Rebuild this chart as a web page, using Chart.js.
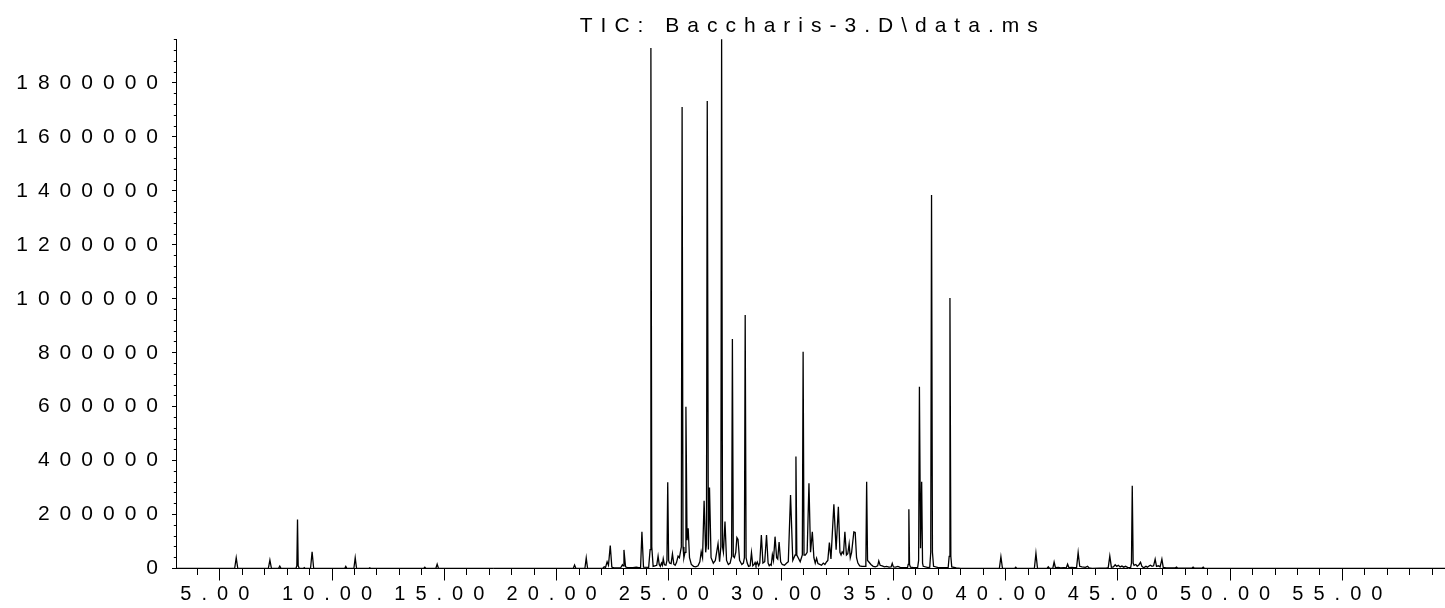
<!DOCTYPE html>
<html>
<head>
<meta charset="utf-8">
<title>TIC: Baccharis-3.D\data.ms</title>
<script src="https://cdn.jsdelivr.net/npm/chart.js@4"></script>
<style>
  html, body { margin: 0; padding: 0; background: #fff; }
  canvas { display: block; }
</style>
</head>
<body>
<canvas id="tic" width="1445" height="608"></canvas>
<script>
  const chartTitle = 'TIC: Baccharis-3.D\\data.ms';
  const fontFamily = "'Liberation Sans', Arial, sans-serif";

  // axis ranges and labelled ticks
  const timeRange = [3.07, 59.57];
  const abundanceRange = [0, 1962000];
  const timeLabels = [5, 10, 15, 20, 25, 30, 35, 40, 45, 50, 55];
  const abundanceLabels = [0, 200000, 400000, 600000, 800000, 1000000, 1200000, 1400000, 1600000, 1800000];

  // trace: [retention time (min), abundance]
  const earlyTrace = [
    [3.07, 0], [5.66, 0], [5.73, 40000], [5.80, 0],
    [7.16, 0], [7.23, 31000], [7.30, 0],
    [7.61, 0], [7.67, 9000], [7.73, 0],
    [8.39, 0], [8.43, 10000], [8.46, 182000], [8.49, 10000], [8.54, 0],
    [8.72, 0], [8.76, 3000], [8.80, 0],
    [9.04, 0], [9.11, 62000], [9.18, 0],
    [10.56, 0], [10.61, 8000], [10.66, 0],
    [10.97, 0], [11.03, 40000], [11.09, 0],
    [11.63, 0], [11.68, 3000], [11.73, 0],
    [14.08, 0], [14.13, 5000], [14.18, 0],
    [14.62, 0], [14.68, 16000], [14.74, 0],
    [20.74, 0]
  ];

  const middleTrace = [
    [20.80, 13000], [20.86, 0],
    [21.26, 0], [21.32, 39000], [21.38, 0],
    [22.05, 0], [22.12, 6000], [22.18, 4000], [22.25, 25000], [22.31, 12000], [22.39, 85000], [22.46, 5000], [22.55, 2000],
    [22.85, 2000], [22.93, 14000], [22.96, 10000], [23.00, 69000], [23.07, 6000], [23.15, 3000], [23.40, 3000], [23.55, 5000], [23.66, 3000],
    [23.74, 3000], [23.80, 136000], [23.87, 5000], [24.10, 4000],
    [24.165, 70000], [24.20, 1930000], [24.24, 80000], [24.30, 8000], [24.38, 10000], [24.46, 12000], [24.52, 46000], [24.57, 15000],
    [24.62, 8000], [24.67, 20000], [24.71, 12000], [24.75, 36000], [24.80, 14000], [24.87, 12000],
    [24.915, 30000], [24.95, 320000], [24.99, 30000], [25.03, 20000], [25.10, 18000], [25.16, 54000], [25.22, 16000], [25.28, 12000],
    [25.34, 22000], [25.41, 46000], [25.47, 40000],
    [25.555, 80000], [25.59, 1711000], [25.63, 80000], [25.67, 40000], [25.72, 60000], [25.76, 600000], [25.81, 105000], [25.86, 149000],
    [25.92, 40000], [26.00, 15000], [26.10, 8000], [26.20, 6000], [26.30, 10000], [26.38, 25000],
    [26.44, 62000], [26.50, 40000], [26.57, 251000], [26.64, 60000], [26.675, 90000], [26.71, 1733000], [26.76, 70000], [26.81, 300000],
    [26.88, 40000], [26.98, 20000], [27.07, 30000], [27.19, 92000], [27.26, 25000],
    [27.315, 80000], [27.35, 1963000], [27.39, 80000], [27.43, 60000], [27.50, 174000], [27.57, 30000], [27.65, 15000], [27.73, 20000],
    [27.795, 45000], [27.83, 851000], [27.87, 45000], [27.92, 40000], [27.98, 60000], [28.03, 115000], [28.08, 108000], [28.15, 30000],
    [28.25, 15000], [28.32, 20000],
    [28.365, 40000], [28.40, 940000], [28.44, 40000], [28.49, 20000], [28.55, 8000], [28.62, 10000], [28.68, 59000], [28.74, 10000],
    [28.80, 15000], [28.84, 22000], [28.88, 12000], [28.94, 24000], [29.00, 10000], [29.05, 20000],
    [29.12, 124000], [29.19, 20000], [29.27, 25000], [29.35, 124000], [29.42, 20000], [29.47, 10000], [29.52, 15000], [29.56, 12000],
    [29.61, 51000], [29.66, 30000], [29.73, 118000], [29.80, 40000], [29.85, 35000], [29.91, 98000], [29.98, 25000], [30.05, 15000],
    [30.15, 12000], [30.25, 20000], [30.32, 25000],
    [30.42, 272000], [30.52, 30000], [30.625, 50000], [30.66, 415000], [30.70, 50000], [30.76, 40000], [30.85, 25000],
    [30.945, 50000], [30.98, 804000], [31.02, 50000], [31.08, 50000], [31.16, 60000], [31.24, 316000], [31.31, 60000], [31.39, 136000],
    [31.46, 40000], [31.52, 20000], [31.58, 38000], [31.64, 18000], [31.72, 15000], [31.80, 12000], [31.88, 20000], [31.95, 15000],
    [32.03, 25000], [32.08, 30000],
    [32.15, 96000], [32.22, 35000], [32.35, 238000], [32.45, 70000], [32.55, 229000], [32.62, 60000], [32.67, 50000], [32.72, 62000],
    [32.78, 55000], [32.84, 136000], [32.91, 50000], [32.97, 55000], [33.03, 91000], [33.08, 40000], [33.14, 60000], [33.24, 136000],
    [33.30, 134000], [33.36, 40000], [33.42, 20000], [33.50, 10000], [33.60, 8000], [33.74, 8000],
    [33.775, 20000], [33.81, 322000], [33.85, 30000], [33.90, 25000], [34.00, 15000], [34.10, 8000], [34.20, 6000], [34.30, 10000],
    [34.35, 28000], [34.41, 12000], [34.50, 10000], [34.60, 6000], [34.70, 8000], [34.80, 5000], [34.90, 6000], [34.95, 19000],
    [35.00, 6000], [35.10, 5000], [35.20, 8000], [35.30, 4000], [35.45, 3000], [35.63, 3000],
    [35.66, 15000], [35.69, 220000], [35.72, 15000], [35.76, 5000], [35.90, 3000], [36.08, 3000],
    [36.125, 30000], [36.16, 674000], [36.21, 75000], [36.26, 322000], [36.30, 20000], [36.33, 8000], [36.55, 3000], [36.62, 5000],
    [36.665, 60000], [36.70, 1385000], [36.74, 60000], [36.79, 8000], [37.00, 3000], [37.44, 3000],
    [37.485, 45000], [37.52, 1003000], [37.56, 45000], [37.60, 6000], [37.80, 2000], [38.00, 0]
  ];

  const lateTrace = [
    [39.72, 0], [39.79, 44000], [39.86, 0],
    [40.40, 0], [40.45, 5000], [40.50, 0],
    [41.28, 0], [41.35, 56000], [41.42, 0],
    [41.84, 0], [41.90, 6000], [41.96, 0],
    [42.10, 0], [42.16, 24000], [42.22, 3000], [42.35, 4000], [42.45, 2000], [42.60, 3000], [42.70, 2000],
    [42.76, 16000], [42.82, 3000], [42.95, 4000], [43.05, 3000], [43.16, 3000],
    [43.23, 59000], [43.30, 8000], [43.40, 6000], [43.55, 4000], [43.65, 8000], [43.72, 2000], [43.85, 0],
    [44.50, 2000], [44.57, 3000], [44.64, 46000], [44.71, 5000], [44.80, 6000], [44.88, 14000], [44.95, 8000],
    [45.02, 12000], [45.10, 6000], [45.18, 9000], [45.26, 5000], [45.34, 8000], [45.45, 3000], [45.57, 4000],
    [45.605, 20000], [45.64, 307000], [45.68, 20000], [45.72, 12000], [45.80, 15000], [45.86, 8000], [45.94, 14000],
    [46.01, 23000], [46.07, 8000], [46.15, 3000], [46.25, 8000], [46.32, 5000], [46.40, 10000], [46.45, 12000],
    [46.52, 8000], [46.59, 10000], [46.66, 35000], [46.72, 8000], [46.80, 10000], [46.88, 6000], [46.96, 35000],
    [47.02, 4000], [47.15, 2000], [47.55, 2000], [47.61, 5000], [47.67, 1000],
    [48.29, 1000], [48.35, 5000], [48.41, 1000], [48.74, 1000], [48.80, 5000], [48.86, 0],
    [59.57, 0]
  ];

  // one tick per minute, one per 40000 counts; only the round ones get a label
  function minuteTicks(axis) {
    axis.ticks = [];
    for (let t = Math.ceil(timeRange[0]); t <= timeRange[1]; t++) axis.ticks.push({ value: t });
  }
  function countTicks(axis) {
    axis.ticks = [];
    for (let v = abundanceRange[0]; v <= abundanceRange[1]; v += 40000) axis.ticks.push({ value: v });
  }

  // spaced-out lettering like the instrument printout, and the title over the plot
  const spacedText = {
    id: 'spacedText',
    beforeDraw(chart) {
      chart.ctx.letterSpacing = '10px';
    },
    afterDraw(chart) {
      const ctx = chart.ctx;
      const area = chart.chartArea;
      ctx.save();
      ctx.letterSpacing = '8px';
      ctx.font = '21px ' + fontFamily;
      ctx.fillStyle = '#000';
      ctx.textAlign = 'center';
      ctx.textBaseline = 'alphabetic';
      ctx.fillText(chartTitle, (area.left + area.right) / 2 + 2, 31.5);
      ctx.restore();
      ctx.letterSpacing = '0px';
    }
  };

  new Chart(document.getElementById('tic'), {
    type: 'line',
    data: {
      datasets: [{
        data: earlyTrace.concat(middleTrace, lateTrace),
        borderColor: '#000',
        borderWidth: 1.3,
        pointRadius: 0,
        tension: 0,
        fill: false
      }]
    },
    options: {
      responsive: false,
      animation: false,
      events: [],
      layout: { padding: { top: 39.3, right: 0, bottom: 0, left: 0 } },
      plugins: {
        legend: { display: false },
        tooltip: { enabled: false },
        title: { display: false }
      },
      scales: {
        x: {
          type: 'linear',
          min: timeRange[0],
          max: timeRange[1],
          bounds: 'data',
          afterBuildTicks: minuteTicks,
          afterFit: axis => { axis.height = 39.5; },
          border: { color: '#000', width: 1 },
          grid: {
            drawOnChartArea: false,
            tickLength: 12,
            tickColor: '#000',
            tickWidth: 1,
            tickBorderDash: c => timeLabels.includes(c.tick.value) ? [] : [6, 40]
          },
          ticks: {
            autoSkip: false,
            maxRotation: 0,
            minRotation: 0,
            padding: 1.5,
            color: '#000',
            font: { family: fontFamily, size: 20 },
            callback: v => timeLabels.includes(v) ? v.toFixed(2) : ''
          }
        },
        y: {
          type: 'linear',
          min: abundanceRange[0],
          max: abundanceRange[1],
          bounds: 'data',
          afterBuildTicks: countTicks,
          afterFit: axis => { axis.width = 176.5; },
          border: { color: '#000', width: 1 },
          grid: {
            drawOnChartArea: false,
            tickLength: 4.5,
            tickColor: '#000',
            tickWidth: 1,
            tickBorderDash: c => abundanceLabels.includes(c.tick.value) ? [] : [0, 1.8, 2.7, 50]
          },
          ticks: {
            autoSkip: false,
            padding: 4,
            color: '#000',
            font: { family: fontFamily, size: 21 },
            callback: v => abundanceLabels.includes(v) ? String(v) : ''
          }
        }
      }
    },
    plugins: [spacedText]
  });
</script>
</body>
</html>
